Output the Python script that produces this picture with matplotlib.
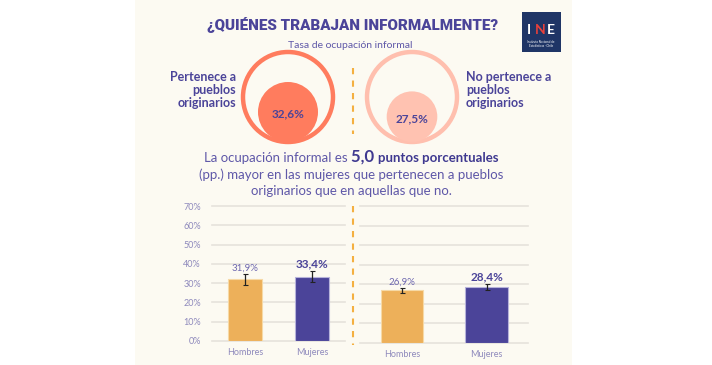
import matplotlib.pyplot as plt
from matplotlib.patches import Circle, Rectangle

# datos
grupos = ['Pertenece a\npueblos\noriginarios', 'No pertenece a\npueblos\noriginarios']
tasa_grupo = [32.6, 27.5]
sexos = ['Hombres', 'Mujeres']
tasa_pertenece = [31.9, 33.4]
error_pertenece = [2.8, 2.9]
tasa_no_pertenece = [26.9, 28.4]
error_no_pertenece = [1.3, 1.5]
yticks = [0, 10, 20, 30, 40, 50, 60, 70]
diferencia_pp = 5.0

MORADO = '#4B4499'
MORADO_TXT = '#5F58A8'
NARANJO = '#EDB05A'
GRIS_TICK = '#8E89BC'

W, H = 712, 365
fig = plt.figure(figsize=(W / 100, H / 100), dpi=100)
fig.patch.set_facecolor('white')
FUENTE = ['Lato', 'DejaVu Sans']
plt.rcParams['font.family'] = FUENTE

ax = fig.add_axes([0, 0, 1, 1])
ax.set_xlim(0, W)
ax.set_ylim(H, 0)
ax.axis('off')
renderer = fig.canvas.get_renderer()

# fondo crema
ax.add_patch(Rectangle((135, 0), 437, H, facecolor='#FCFAF2', edgecolor='none', zorder=0))

# titulo (ajustado al ancho del original)
titulo = ax.text(353, 25, '¿QUIÉNES TRABAJAN INFORMALMENTE?', ha='center', va='center',
                 fontsize=12, fontweight='heavy', color=MORADO, family=['Roboto', 'DejaVu Sans'])
ancho = titulo.get_window_extent(renderer).width
titulo.set_fontsize(12 * 290 / ancho)
ax.text(350, 46, 'Tasa de ocupación informal', ha='center', va='center',
        fontsize=7.5, color=MORADO_TXT)

# logo INE
ax.add_patch(Rectangle((522, 12), 39, 40, facecolor='#1F3566', edgecolor='none', zorder=2))
ax.text(529, 30, 'I', color='white', fontsize=10, fontweight='bold', ha='center', va='center', zorder=3)
ax.text(540, 30, 'N', color='#E8403A', fontsize=10, fontweight='bold', ha='center', va='center', zorder=3)
ax.text(551, 30, 'E', color='white', fontsize=10, fontweight='bold', ha='center', va='center', zorder=3)
ax.text(541, 44, 'Instituto Nacional de\nEstadísticas · Chile', color='white', fontsize=2.2,
        ha='center', va='center', linespacing=1.0, zorder=3)

# circulos
centros = [288, 412]
colores_anillo = ['#FF7C5E', '#FFBFAE']
colores_relleno = ['#FF7C5E', '#FFC2B1']
r_ext = 45
base_y = 142
for cx, val, ca, cr in zip(centros, tasa_grupo, colores_anillo, colores_relleno):
    ax.add_patch(Circle((cx, base_y - r_ext), r_ext, facecolor='none', edgecolor=ca, lw=3.2, zorder=2))
    r_in = val * 30 / tasa_grupo[0]
    ax.add_patch(Circle((cx, base_y - r_in), r_in, facecolor=cr, edgecolor='none', zorder=2))
    ax.text(cx, base_y - r_in + 2, f'{val:.1f}%'.replace('.', ','), ha='center', va='center',
            fontsize=8.5, fontweight='bold', color=MORADO, zorder=3)

ax.text(236, 90, grupos[0], ha='right', va='center', fontsize=9, fontweight='bold',
        color=MORADO, linespacing=1.1)
ax.text(466, 90, grupos[1], ha='left', va='center', fontsize=9, fontweight='bold',
        color=MORADO, linespacing=1.1)
ax.plot([353, 353], [68, 134], color='#F4B041', lw=1.5, ls=(0, (3, 3)))

# parrafo
piezas = [('La ocupación informal es ', 9.5, 'normal', MORADO_TXT),
          (f'{diferencia_pp:.1f}'.replace('.', ',') + ' ', 12, 'bold', '#3F3990'),
          ('puntos porcentuales', 9.5, 'bold', '#3F3990')]
textos = []
for s, fs, fw, c in piezas:
    textos.append(ax.text(0, 162, s, ha='left', va='baseline', fontsize=fs, fontweight=fw, color=c))
anchos = [t.get_window_extent(renderer).width for t in textos]
x = 351 - sum(anchos) / 2
for t, w in zip(textos, anchos):
    t.set_x(x)
    x += w
ax.text(351, 175, '(pp.) mayor en las mujeres que pertenecen a pueblos', ha='center', va='center',
        fontsize=9.5, color=MORADO_TXT)
ax.text(351, 191, 'originarios que en aquellas que no.', ha='center', va='center',
        fontsize=9.5, color=MORADO_TXT)

ax.plot([353, 353], [206, 345], color='#F4B041', lw=1.5, ls=(0, (3, 3)))


def barras(pos, valores, errores, xlim, ancho, mostrar_y):
    bx = fig.add_axes(pos)
    bx.set_facecolor('none')
    x = list(range(len(valores)))
    bx.bar(x, valores, width=ancho, color=[NARANJO, MORADO], edgecolor=['#F6D9A6', '#B7B3DA'],
           linewidth=0.8, zorder=2)
    bx.errorbar(x, valores, yerr=errores, fmt='none', ecolor='#222222', elinewidth=0.9,
                capsize=1.8, capthick=0.8, zorder=3)
    for i, (v, e) in enumerate(zip(valores, errores)):
        etiqueta = f'{v:.1f}%'.replace('.', ',')
        if i == 0:
            bx.text(i, v + e + 0.8, etiqueta, ha='center', va='bottom', fontsize=7, color='#6E68B0')
        else:
            bx.text(i, v + e + 1.0, etiqueta, ha='center', va='bottom', fontsize=8.5,
                    fontweight='bold', color=MORADO)
    bx.set_ylim(0, 70)
    bx.set_xlim(*xlim)
    bx.set_yticks(yticks)
    bx.set_yticklabels([f'{t}%' for t in yticks] if mostrar_y else [])
    bx.set_xticks(x)
    bx.set_xticklabels(sexos)
    bx.tick_params(length=0, labelsize=6.5, colors=GRIS_TICK, pad=5)
    bx.tick_params(axis='y', pad=8)
    bx.grid(axis='y', color='#E6E3DC', lw=1.2, zorder=0)
    for sp in bx.spines.values():
        sp.set_visible(False)
    for gl in bx.get_ygridlines():
        gl.set_clip_on(False)
    return bx


barras([212 / W, (H - 341) / H, 133 / W, 135 / H], tasa_pertenece, error_pertenece,
       (-0.49, 1.49), 0.51, True)
barras([360 / W, (H - 343) / H, 168 / W, 137 / H], tasa_no_pertenece, error_no_pertenece,
       (-0.497, 1.49), 0.5, False)

fig.savefig('out.png', dpi=100, facecolor='white')
